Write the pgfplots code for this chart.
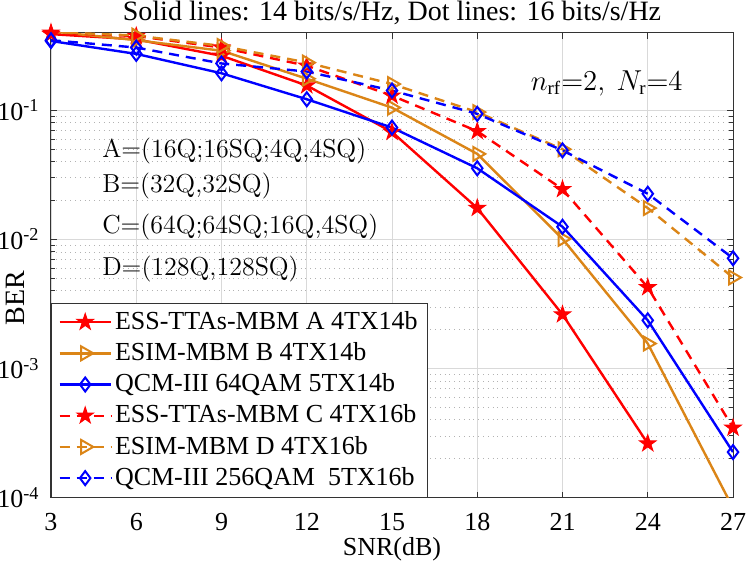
\documentclass[border=0pt]{standalone}
\usepackage{fontspec}
\setmainfont{Liberation Serif}
\newfontfamily\cmfont{Latin Modern Roman}
\usepackage{pgfplots}
\pgfplotsset{compat=1.18}
\definecolor{morange}{rgb}{0.86,0.52,0.09}
\pgfdeclareplotmark{pentagram}{%
  \pgfpathmoveto{\pgfpointpolar{90}{\pgfplotmarksize}}%
  \pgfpathlineto{\pgfpointpolar{126}{0.382\pgfplotmarksize}}%
  \pgfpathlineto{\pgfpointpolar{162}{\pgfplotmarksize}}%
  \pgfpathlineto{\pgfpointpolar{198}{0.382\pgfplotmarksize}}%
  \pgfpathlineto{\pgfpointpolar{234}{\pgfplotmarksize}}%
  \pgfpathlineto{\pgfpointpolar{270}{0.382\pgfplotmarksize}}%
  \pgfpathlineto{\pgfpointpolar{306}{\pgfplotmarksize}}%
  \pgfpathlineto{\pgfpointpolar{342}{0.382\pgfplotmarksize}}%
  \pgfpathlineto{\pgfpointpolar{18}{\pgfplotmarksize}}%
  \pgfpathlineto{\pgfpointpolar{54}{0.382\pgfplotmarksize}}%
  \pgfpathclose
  \pgfusepathqfillstroke
}
\newcommand{\fs}{\fontsize{13}{15}\selectfont}
\begin{document}
\begin{tikzpicture}
\begin{semilogyaxis}[
  name=ax,
  scale only axis, width=341pt, height=232.4pt,
  xmin=3, xmax=27, ymin=1e-4, ymax=0.4,
  xtick={3,6,...,27},
  ytick={1e-4,1e-3,1e-2,1e-1},
  yticklabels={10\textsuperscript{-4},10\textsuperscript{-3},10\textsuperscript{-2},10\textsuperscript{-1}},
  /pgf/number format/assume math mode=true,
  tick label style={font=\fs},
  xticklabel style={inner sep=0pt, anchor=north, yshift=-7.5pt},
  yticklabel style={xshift=-2.2pt},
  every axis title/.style={font=\fontsize{14}{16}\selectfont, at={(0.5,1)}, anchor=base, yshift=6pt, inner sep=0pt},
  title={Solid lines: 14 bits/s/Hz, Dot lines: 16 bits/s/Hz},
  xlabel={SNR(dB)}, ylabel={BER},
  xlabel style={font=\fontsize{13}{15}\selectfont, at={(axis description cs:0.5,0)}, anchor=base, yshift=-29pt, inner sep=0pt},
  ylabel style={font=\fontsize{14}{16}\selectfont, at={(axis description cs:-0.0528,0.429)}, anchor=center, inner sep=0pt},
  xmajorgrids, ymajorgrids, yminorgrids,
  major grid style={black!15, line width=0.4pt},
  minor grid style={black!30, dotted, line width=0.4pt},
  tick align=inside, major tick length=3pt, minor tick length=1.8pt,
  xtick pos=both, ytick pos=both,
  axis line style={black!80, line width=0.5pt},
  every tick/.style={black!80, line width=0.5pt},
  clip marker paths=false,
  legend style={at={(0,0)}, anchor=south west, draw=black!80, fill=white,
    font=\fs, cells={anchor=west}, inner xsep=3.5pt, inner ysep=1.7pt, row sep=0pt,
    nodes={inner xsep=1.5pt, inner ysep=1.7pt, text height=9.7pt, text depth=2.5pt}},
  legend image code/.code={%
    \draw[mark=none] (0cm,0cm) -- (0.9cm,0cm);
    \draw[mark indices={1}] plot coordinates {(0.45cm,0cm)};},
]
\addplot[red, line width=1.2pt, mark=pentagram, mark size=4.3pt, mark options={solid, fill=red, line width=0.5pt}]
 coordinates {(3,0.39)(6,0.355)(9,0.265)(12,0.156)(15,0.068)(18,0.0175)(21,0.00262)(24,0.000262)};
\addlegendentry{ESS-TTAs-MBM A 4TX14b}
\addplot[morange, line width=1.2pt, mark=triangle, mark size=4pt, mark options={solid, rotate=-90, line width=1pt}, mark indices={1,...,8}]
 coordinates {(3,0.41)(6,0.35)(9,0.29)(12,0.176)(15,0.105)(18,0.046)(21,0.0101)(24,0.00156)(27,8.3e-5)};
\addlegendentry{ESIM-MBM B 4TX14b}
\addplot[blue, line width=1.2pt, mark=diamond, mark size=3.5pt, mark options={solid, line width=1pt}]
 coordinates {(3,0.345)(6,0.274)(9,0.194)(12,0.122)(15,0.0736)(18,0.0356)(21,0.01253)(24,0.00236)(27,0.000225)};
\addlegendentry{QCM-III 64QAM 5TX14b}
\addplot[red, line width=1.2pt, dash pattern=on 5pt off 3.5pt, mark=pentagram, mark size=4.3pt, mark options={solid, fill=red, line width=0.5pt}]
 coordinates {(3,0.40)(6,0.377)(9,0.307)(12,0.222)(15,0.13)(18,0.069)(21,0.0245)(24,0.00425)(27,0.000347)};
\addlegendentry{ESS-TTAs-MBM C 4TX16b}
\addplot[morange, line width=1.2pt, dash pattern=on 5pt off 3.5pt, mark=triangle, mark size=4pt, mark options={solid, rotate=-90, line width=1pt}]
 coordinates {(3,0.405)(6,0.38)(9,0.316)(12,0.235)(15,0.16)(18,0.097)(21,0.05)(24,0.0175)(27,0.00507)};
\addlegendentry{ESIM-MBM D 4TX16b}
\addplot[blue, line width=1.2pt, dash pattern=on 5pt off 3.5pt, mark=diamond, mark size=3.5pt, mark options={solid, line width=1pt}]
 coordinates {(3,0.35)(6,0.307)(9,0.231)(12,0.2)(15,0.1425)(18,0.094)(21,0.049)(24,0.0226)(27,0.00715)};
\addlegendentry{QCM-III 256QAM\ \ 5TX16b}
\node[anchor=west, inner sep=0pt, font=\cmfont\fs] at (axis cs:4.79,0.0488) {A=(16Q;16SQ;4Q,4SQ)};
\node[anchor=west, inner sep=0pt, font=\cmfont\fs] at (axis cs:4.79,0.0261) {B=(32Q,32SQ)};
\node[anchor=west, inner sep=0pt, font=\cmfont\fs] at (axis cs:4.79,0.0124) {C=(64Q;64SQ;16Q,4SQ)};
\node[anchor=west, inner sep=0pt, font=\cmfont\fs] at (axis cs:4.79,0.00587) {D=(128Q,128SQ)};
\node[anchor=east, inner sep=0pt, font=\fontsize{13.5}{16}\selectfont] at (axis cs:25.24,0.163) {$n_{\mathrm{rf}}{=}2,\ N_{\mathrm{r}}{=}4$};
\end{semilogyaxis}
\pgfresetboundingbox
\path[use as bounding box] ([xshift=-25.5pt,yshift=-31.75pt]ax.south west) rectangle ([xshift=6.5pt,yshift=16.35pt]ax.north east);
\end{tikzpicture}
\end{document}
